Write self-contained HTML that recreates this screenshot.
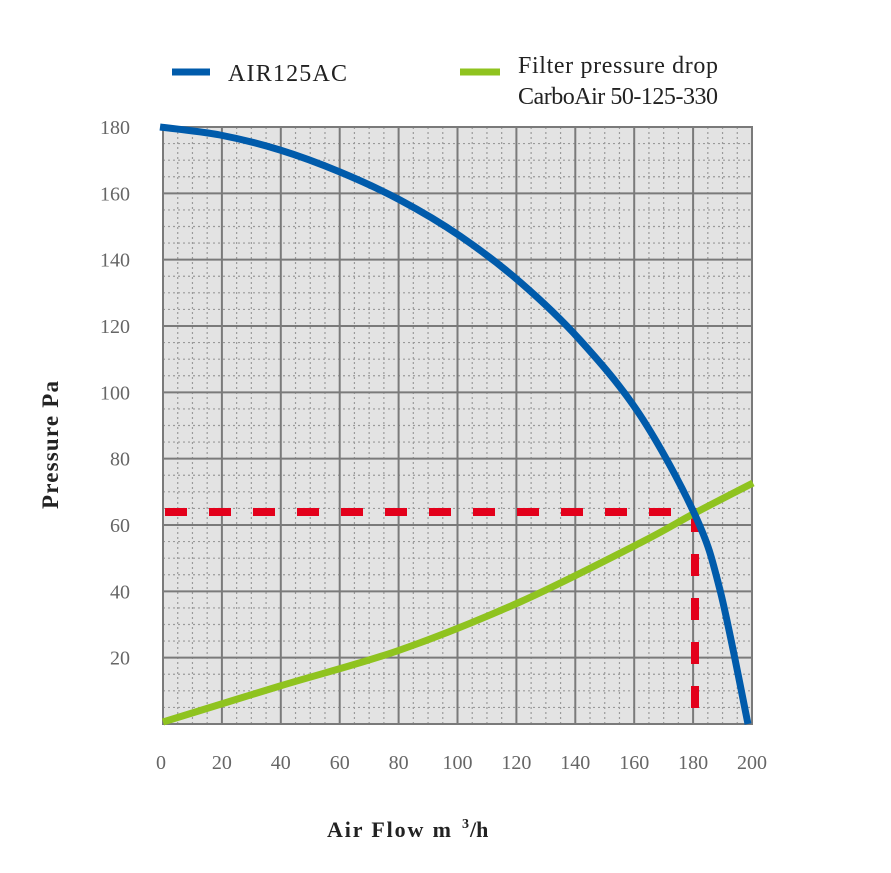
<!DOCTYPE html>
<html><head><style>body{margin:0;background:#fff}svg{display:block}</style></head><body>
<svg id="s" width="891" height="873" xmlns="http://www.w3.org/2000/svg" font-family="Liberation Serif, serif">
<rect x="163" y="127" width="589" height="597" fill="#e3e3e3"/>
<g id="minor" stroke="#9a9a9a" stroke-width="1.2" stroke-dasharray="2,3"></g>
<g id="major" stroke="#7a7a7a" stroke-width="2"></g>
<rect x="163" y="127" width="589" height="597" fill="none" stroke="#7a7a7a" stroke-width="2"/>
<g id="labels" fill="#666" font-size="20"></g>
<path d="M165 512 H695 V724" fill="none" stroke="#e3001b" stroke-width="8" stroke-dasharray="22,22"/>
<path id="green" fill="none" stroke="#8fc31f" stroke-width="7"/>
<path id="blue" fill="none" stroke="#005bab" stroke-width="7"/>
<line x1="172" y1="72" x2="210" y2="72" stroke="#005bab" stroke-width="7"/>
<text x="228" y="81" font-size="24" fill="#222" textLength="119">AIR125AC</text>
<line x1="460" y1="72" x2="500" y2="72" stroke="#8fc31f" stroke-width="7"/>
<text x="518" y="73" font-size="24" fill="#222" textLength="200">Filter pressure drop</text>
<text x="518" y="104" font-size="24" fill="#222" textLength="200">CarboAir 50-125-330</text>
<text transform="translate(58,445) rotate(-90)" text-anchor="middle" font-size="23" font-weight="bold" fill="#222" textLength="128">Pressure Pa</text>
<text x="327" y="837" font-size="22" font-weight="bold" fill="#222" textLength="124">Air Flow m</text>
<text x="462" y="828" font-size="14" font-weight="bold" fill="#222">3</text>
<text x="470" y="837" font-size="22" font-weight="bold" fill="#222">/h</text>
</svg>
<script>
var ns="http://www.w3.org/2000/svg",x0=163,x1=752,y0=724,y1=127;
function el(p,t,a){var e=document.createElementNS(ns,t);for(var k in a)e.setAttribute(k,a[k]);document.getElementById(p).appendChild(e);return e;}
for(var i=0;i<=40;i++){var x=x0+(x1-x0)*i/40;if(i%4)el("minor","line",{x1:x,y1:y1,x2:x,y2:y0});else el("major","line",{x1:x,y1:y1,x2:x,y2:y0});}
for(var i=0;i<=36;i++){var y=y0-(y0-y1)*i/36;if(i%4)el("minor","line",{x1:x0,y1:y,x2:x1,y2:y});else el("major","line",{x1:x0,y1:y,x2:x1,y2:y});}
for(var i=0;i<=10;i++){var t=el("labels","text",{x:x0+(x1-x0)*i/10-(i==0?2:0),y:769,"text-anchor":"middle"});t.textContent=i*20;}
for(var i=1;i<=9;i++){var t=el("labels","text",{x:130,y:y0-(y0-y1)*i/9+7,"text-anchor":"end"});t.textContent=i*20;}
function cr(p){var d="M"+p[0];for(var i=0;i<p.length-1;i++){var a=p[i-1]||p[i],b=p[i],c=p[i+1],e=p[i+2]||c;
d+=" C"+(b[0]+(c[0]-a[0])/6)+" "+(b[1]+(c[1]-a[1])/6)+","+(c[0]-(e[0]-b[0])/6)+" "+(c[1]-(e[1]-b[1])/6)+","+c[0]+" "+c[1];}return d;}
document.getElementById("blue").setAttribute("d",cr([[160,127],[220,135],[280,150],[340,172],[400,200],[460,236],[520,282],[580,340],[640,415],[695,515],[720,590],[748,724]]));
document.getElementById("green").setAttribute("d",cr([[163,722],[280,686],[400,650],[520,602],[640,543],[695,513],[753,483]]));
</script>
</body></html>
